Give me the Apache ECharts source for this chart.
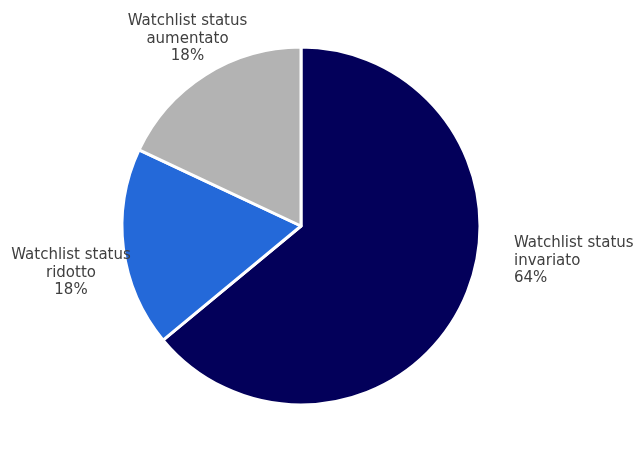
<!DOCTYPE html>
<html>
<head>
<meta charset="utf-8">
<script src="https://cdn.jsdelivr.net/npm/echarts@6/dist/echarts.min.js"></script>
<style>html,body{margin:0;padding:0;background:#fff}#c{width:644px;height:454px}</style>
</head>
<body>
<div id="c"></div>
<script>
const categories = ['Watchlist status\ninvariato', 'Watchlist status\nridotto', 'Watchlist status\naumentato'];
const values = [64, 18, 18];
const colors = ['#03005A', '#2469D9', '#B3B3B3'];
const labelSpots = [
  {x: 514, y: 261, align: 'left'},
  {x: 71, y: 273, align: 'center'},
  {x: 187.5, y: 39, align: 'center'}
];
const chart = echarts.init(document.getElementById('c'), null, {renderer: 'canvas'});
chart.setOption({
  animation: false,
  series: [{
    type: 'pie',
    center: [301, 226],
    radius: [0, 179],
    startAngle: 90,
    clockwise: true,
    itemStyle: {borderColor: '#fff', borderWidth: 3},
    label: {
      show: true,
      position: 'outside',
      formatter: p => p.name + '\n' + p.value + '%',
      fontFamily: 'DejaVu Sans',
      fontSize: 15,
      lineHeight: 17.5,
      color: '#404040',
      overflow: 'none',
      width: 300
    },
    labelLine: {show: false},
    labelLayout: p => {
      const s = labelSpots[p.dataIndex];
      return {x: s.x, y: s.y, align: s.align, verticalAlign: 'middle'};
    },
    emphasis: {disabled: true},
    data: categories.map((c, i) => ({name: c, value: values[i], itemStyle: {color: colors[i]}}))
  }]
});
</script>
</body>
</html>
